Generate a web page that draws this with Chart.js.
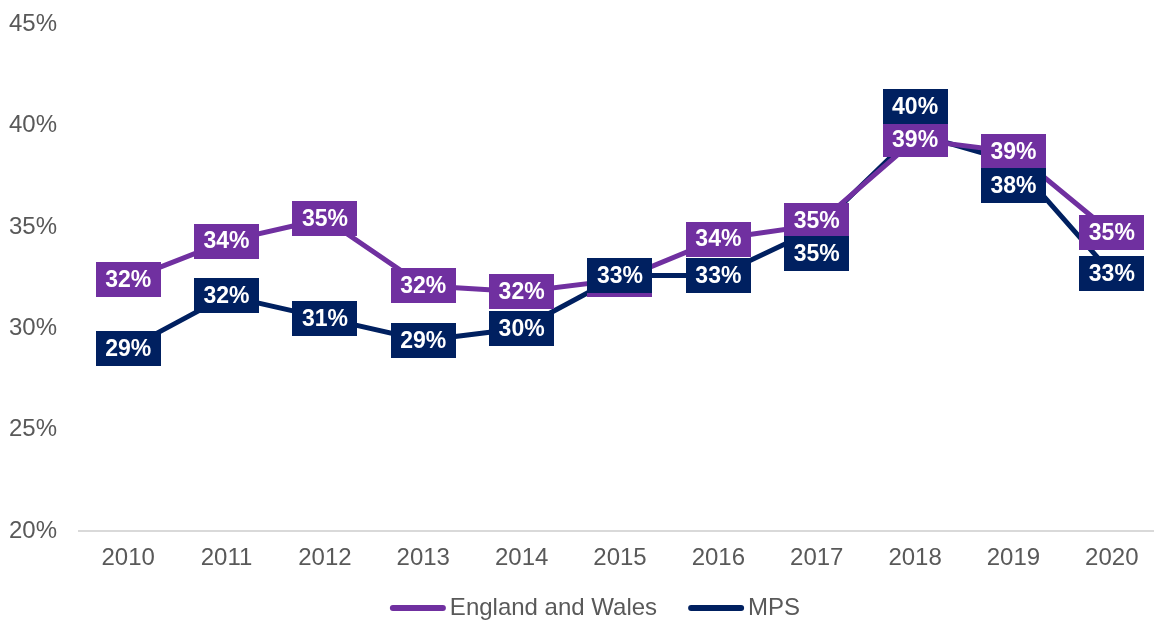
<!DOCTYPE html>
<html>
<head>
<meta charset="utf-8">
<script src="https://cdn.jsdelivr.net/npm/chart.js@4"></script>
<style>
  body { margin: 0; background: #fff; overflow: hidden; }
  #wrap { width: 1161px; height: 623px; position: relative; }
</style>
</head>
<body>
<div id="wrap"><canvas id="canvas"></canvas></div>
<script>
var years = ['2010', '2011', '2012', '2013', '2014', '2015', '2016', '2017', '2018', '2019', '2020'];
var englandWales = [32.4, 34.3, 35.4, 32.1, 31.8, 32.4, 34.4, 35.1, 39.3, 38.7, 34.7];
var mps = [29.0, 31.6, 30.5, 29.4, 30.0, 32.6, 32.6, 34.9, 39.6, 38.2, 32.7];
var yTicks = [20, 25, 30, 35, 40, 45];

var purple = '#7030A0';
var navy = '#002060';
var grey = '#595959';
var fontFamily = '"Liberation Sans", Arial, sans-serif';

// nudges (px) for labels that Excel moved to avoid overlap
var labelShift = { '0-7': -4, '1-7': 25, '1-8': -27, '1-9': 24 };

var boxLabels = {
    id: 'boxLabels',
    afterDatasetsDraw: function(chart) {
        var ctx = chart.ctx;
        ctx.save();
        ctx.font = 'bold 23px ' + fontFamily;
        ctx.textAlign = 'center';
        ctx.textBaseline = 'middle';
        chart.data.datasets.forEach(function(ds, di) {
            var meta = chart.getDatasetMeta(di);
            meta.data.forEach(function(pt, i) {
                var txt = Math.round(ds.data[i]) + '%';
                var w = ctx.measureText(txt).width + 19;
                var h = 35;
                var y = pt.y + (labelShift[di + '-' + i] || 0);
                ctx.fillStyle = ds.borderColor;
                ctx.fillRect(Math.round(pt.x - w / 2), Math.round(y - h / 2), Math.round(w), h);
                ctx.fillStyle = '#fff';
                ctx.fillText(txt, pt.x, y + 1);
            });
        });
        ctx.restore();
    }
};

// legend drawn by hand so the line/text gaps match the original
var lineLegend = {
    id: 'lineLegend',
    afterDraw: function(chart) {
        var ctx = chart.ctx;
        var y = 608, lineW = 56, gapText = 4, gapItem = 31;
        ctx.save();
        ctx.font = '24px ' + fontFamily;
        ctx.textBaseline = 'middle';
        var items = chart.data.datasets.map(function(ds) {
            return { text: ds.label, color: ds.borderColor, w: ctx.measureText(ds.label).width };
        });
        var total = 0;
        items.forEach(function(it, i) { total += lineW + gapText + it.w + (i ? gapItem : 0); });
        var x = 595 - total / 2;
        items.forEach(function(it, i) {
            if (i) x += gapItem;
            ctx.strokeStyle = it.color;
            ctx.lineWidth = 6;
            ctx.lineCap = 'round';
            ctx.beginPath();
            ctx.moveTo(x + 3, y);
            ctx.lineTo(x + lineW - 3, y);
            ctx.stroke();
            x += lineW + gapText;
            ctx.fillStyle = grey;
            ctx.fillText(it.text, x, y);
            x += it.w;
        });
        ctx.restore();
    }
};

window.onload = function() {
    var ctx = document.getElementById('canvas').getContext('2d');
    window.myLine = new Chart(ctx, {
        type: 'line',
        plugins: [boxLabels, lineLegend],
        data: {
            labels: years,
            datasets: [{
                label: 'England and Wales',
                data: englandWales,
                borderColor: purple,
                backgroundColor: purple,
                borderWidth: 5,
                pointRadius: 0,
                tension: 0
            }, {
                label: 'MPS',
                data: mps,
                borderColor: navy,
                backgroundColor: navy,
                borderWidth: 5,
                pointRadius: 0,
                tension: 0
            }]
        },
        options: {
            responsive: true,
            maintainAspectRatio: false,
            animation: false,
            layout: { padding: { top: 24, right: 0, left: 0, bottom: 37 } },
            plugins: {
                tooltip: { enabled: false },
                legend: { display: false }
            },
            scales: {
                x: {
                    offset: true,
                    grid: { display: false, drawTicks: false },
                    border: { display: true, color: '#D9D9D9', width: 2 },
                    ticks: {
                        color: grey,
                        padding: 13,
                        maxRotation: 0,
                        font: { family: fontFamily, size: 24 }
                    }
                },
                y: {
                    min: 20,
                    max: 45,
                    afterFit: function(scale) {
                        scale.width = 79;
                        scale.paddingTop = 0;
                        scale.paddingBottom = 0;
                    },
                    afterBuildTicks: function(scale) {
                        scale.ticks = yTicks.map(function(v) { return { value: v }; });
                    },
                    grid: { display: false, drawTicks: false },
                    border: { display: false },
                    ticks: {
                        color: grey,
                        padding: 22,
                        font: { family: fontFamily, size: 24 },
                        callback: function(v) { return v + '%'; }
                    }
                }
            }
        }
    });
};
</script>
</body>
</html>
